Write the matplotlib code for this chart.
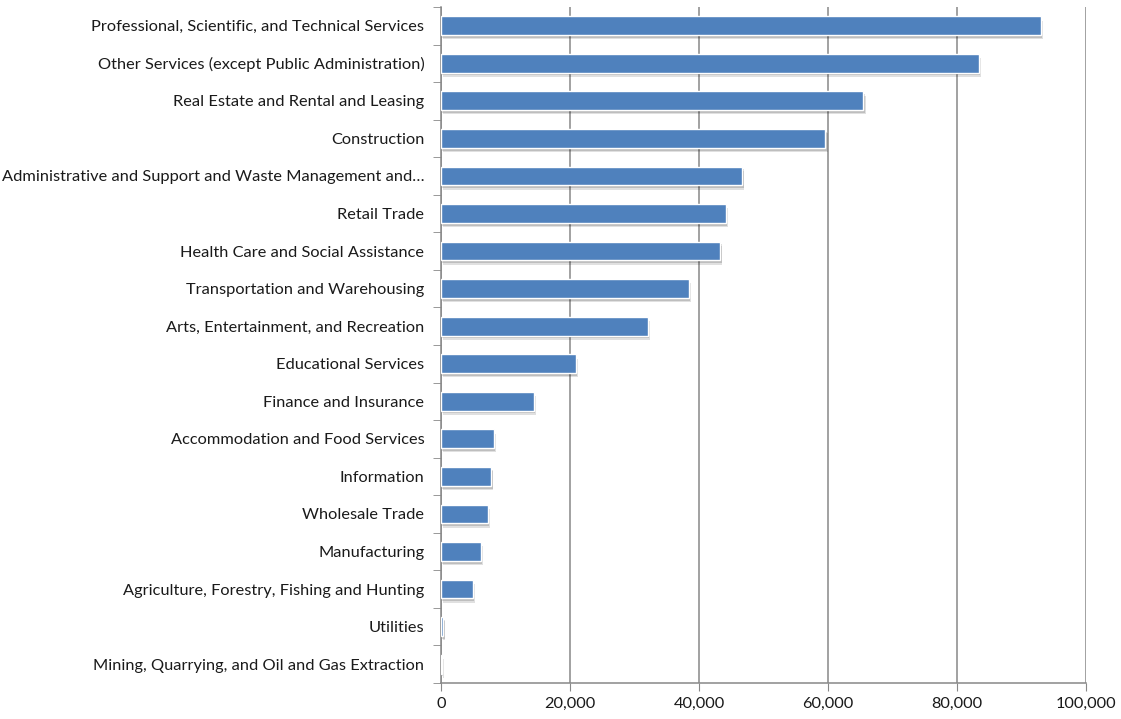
import numpy as np
import matplotlib
matplotlib.use("Agg")
import matplotlib.pyplot as plt
import matplotlib.patheffects as pe

# ================= DATOS =================
industrias = [
    "Professional, Scientific, and Technical Services",
    "Other Services (except Public Administration)",
    "Real Estate and Rental and Leasing",
    "Construction",
    "Administrative and Support and Waste Management and\u2026",
    "Retail Trade",
    "Health Care and Social Assistance",
    "Transportation and Warehousing",
    "Arts, Entertainment, and Recreation",
    "Educational Services",
    "Finance and Insurance",
    "Accommodation and Food Services",
    "Information",
    "Wholesale Trade",
    "Manufacturing",
    "Agriculture, Forestry, Fishing and Hunting",
    "Utilities",
    "Mining, Quarrying, and Oil and Gas Extraction",
]
valores = [93000, 83400, 65500, 59600, 46700, 44200, 43300, 38400, 32100,
           20900, 14400, 8200, 7800, 7300, 6200, 4900, 350, 80]
ticks_x = [0, 20000, 40000, 60000, 80000, 100000]

plt.rcParams['font.family'] = ['Lato', 'DejaVu Sans']

fig = plt.figure(figsize=(11.21, 7.19), dpi=100)
ax = fig.add_axes([0.3934, 0.0501, 0.5754, 0.9402])

n = len(industrias)
y = np.arange(n)[::-1]

barras = ax.barh(y, valores, height=0.5, color="#4F81BD", edgecolor="white",
                 linewidth=1.0, zorder=3)
# sombra suave debajo de cada barra
for b in barras:
    b.set_path_effects([pe.SimplePatchShadow(offset=(1.5, -3), shadow_rgbFace="#000000", alpha=0.12),
                        pe.SimplePatchShadow(offset=(1, -2), shadow_rgbFace="#000000", alpha=0.15),
                        pe.Normal()])

ax.set_xlim(0, 100000)
ax.set_ylim(-0.5, n - 0.5)
ax.set_xticks(ticks_x)
ax.set_xticklabels([f"{t:,}" for t in ticks_x], fontsize=11.8, color="#1a1a1a")
ax.set_yticks(y)
ax.set_yticklabels(industrias, fontsize=11.8, color="#1a1a1a")
ax.set_yticks(np.arange(n + 1) - 0.5, minor=True)

ax.tick_params(axis='y', which='major', length=0, pad=12)
ax.tick_params(axis='y', which='minor', length=6, color="#888888", direction='out')
ax.tick_params(axis='x', which='major', length=6, color="#888888", pad=4)

ax.grid(True, axis='x', color="#888888", linewidth=1.1, zorder=0)
for lado in ['top', 'right']:
    ax.spines[lado].set_visible(False)
for lado in ['left', 'bottom']:
    ax.spines[lado].set_color("#888888")
    ax.spines[lado].set_linewidth(1.1)

fig.savefig("out.png", dpi=100)
